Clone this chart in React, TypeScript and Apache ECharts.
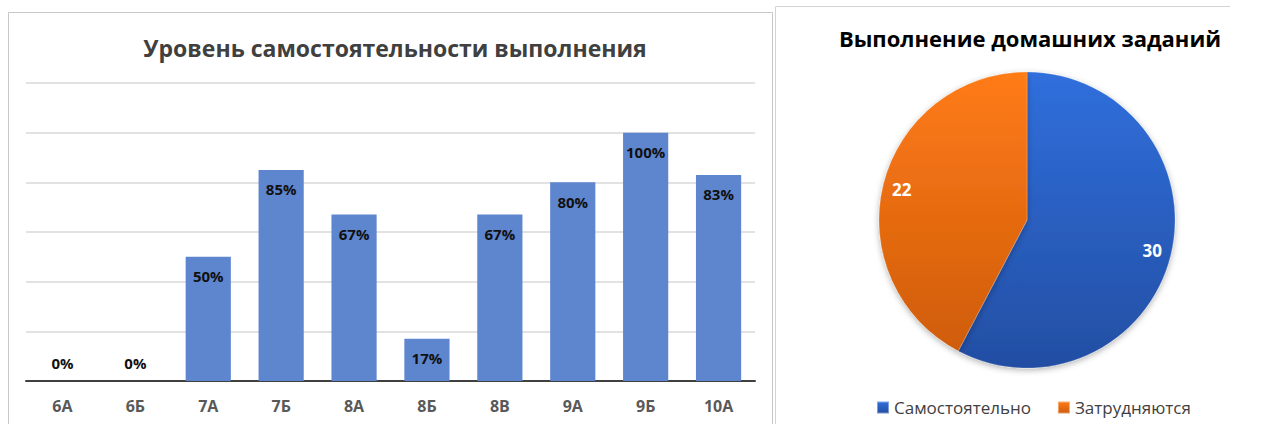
import React, { useEffect, useRef } from "react";
import * as echarts from "echarts";

const categories = ["6А", "6Б", "7А", "7Б", "8А", "8Б", "8В", "9А", "9Б", "10А"];
const percentValues = [0, 0, 50, 85, 67, 17, 67, 80, 100, 83];
const pieNames = ["Самостоятельно", "Затрудняются"];
const pieValues = [30, 22];

const FONT = "'Open Sans', 'Noto Sans', sans-serif";

export default function App() {
  const ref = useRef<HTMLDivElement>(null);
  useEffect(() => {
    if (!ref.current) return;
    const chart = echarts.init(ref.current, null, { renderer: "svg" });
    const barData = percentValues.map((v) => ({
      value: v,
      label:
        v === 0
          ? { position: "top", distance: 11 }
          : { position: "insideTop", distance: 12 },
    }));
    const blueGrad = new echarts.graphic.LinearGradient(0, 0, 0, 1, [
      { offset: 0, color: "#306fdc" },
      { offset: 1, color: "#234ea3" },
    ]);
    const orangeGrad = new echarts.graphic.LinearGradient(0, 0, 0, 1, [
      { offset: 0, color: "#ff7b16" },
      { offset: 1, color: "#cf5c0c" },
    ]);
    const pieData = pieNames.map((n, i) => ({
      name: n,
      value: pieValues[i],
      itemStyle: { color: i === 0 ? blueGrad : orangeGrad },
    }));
    chart.setOption({
      animation: false,
      textStyle: { fontFamily: FONT },
      title: [
        {
          text: "Уровень самостоятельности выполнения",
          left: 390,
          top: 31,
          textAlign: "center",
          textStyle: { fontFamily: FONT, fontSize: 23, fontWeight: "bold", color: "#404040" },
        },
        {
          text: "Выполнение домашних заданий",
          left: 1025,
          top: 22,
          textAlign: "center",
          textStyle: { fontFamily: FONT, fontSize: 22, fontWeight: "bold", color: "#000" },
        },
      ],
      graphic: [
        {
          type: "rect",
          shape: { x: 8.5, y: 12.5, width: 764, height: 440 },
          style: { fill: "none", stroke: "#c8c8c8", lineWidth: 1 },
          z: -1,
        },
        {
          type: "line",
          shape: { x1: 775.5, y1: 6.5, x2: 1230, y2: 6.5 },
          style: { stroke: "#d4d4d4", lineWidth: 1 },
        },
        {
          type: "line",
          shape: { x1: 775.5, y1: 6.5, x2: 775.5, y2: 430 },
          style: { stroke: "#d4d4d4", lineWidth: 1 },
        },
      ],
      grid: { left: 26, right: 512, top: 83, bottom: 43 },
      xAxis: {
        type: "category",
        data: categories,
        axisTick: { show: false },
        axisLine: { lineStyle: { color: "#404040", width: 2 } },
        axisLabel: { color: "#595959", fontSize: 16, fontWeight: "bold", margin: 17, fontFamily: FONT },
      },
      yAxis: {
        type: "value",
        min: 0,
        max: 120,
        interval: 20,
        axisLabel: { show: false },
        axisLine: { show: false },
        axisTick: { show: false },
        splitLine: { lineStyle: { color: "#d9d9d9", width: 1.5 } },
      },
      legend: {
        data: pieNames,
        left: 871,
        top: 394,
        width: 390,
        itemWidth: 12,
        itemHeight: 12,
        itemGap: 26,
        icon: "rect",
        textStyle: { fontFamily: FONT, fontSize: 17, color: "#404040" },
      },
      series: [
        {
          type: "bar",
          data: barData,
          barWidth: "62%",
          itemStyle: { color: "#5e86cf" },
          label: {
            show: true,
            formatter: "{c}%",
            color: "#111",
            fontSize: 15,
            fontWeight: "bold",
            fontFamily: FONT,
          },
        },
        {
          type: "pie",
          center: [1027, 220],
          radius: [0, 148],
          startAngle: 90,
          clockwise: true,
          data: pieData,
          label: { show: false },
          labelLine: { show: false },
          itemStyle: {
            borderColor: "rgba(255,255,255,0.4)",
            borderWidth: 0.5,
            shadowBlur: 6,
            shadowColor: "rgba(0,0,0,0.3)",
            shadowOffsetY: 2,
          },
          emphasis: { disabled: true },
        },
        {
          type: "pie",
          center: [1027, 220],
          radius: [104, 148],
          startAngle: 90,
          clockwise: true,
          silent: true,
          data: pieNames.map((n, i) => ({ name: n, value: pieValues[i] })),
          itemStyle: { color: "rgba(0,0,0,0)" },
          label: {
            show: true,
            position: "inside",
            formatter: "{c}",
            color: "#fff",
            fontSize: 17,
            fontWeight: "bold",
            fontFamily: FONT,
          },
          labelLine: { show: false },
          emphasis: { disabled: true },
        },
      ],
    });
    return () => chart.dispose();
  }, []);
  return (
    <div
      ref={ref}
      style={{ position: "absolute", left: 0, top: 0, width: 1267, height: 424, background: "#fff" }}
    />
  );
}
